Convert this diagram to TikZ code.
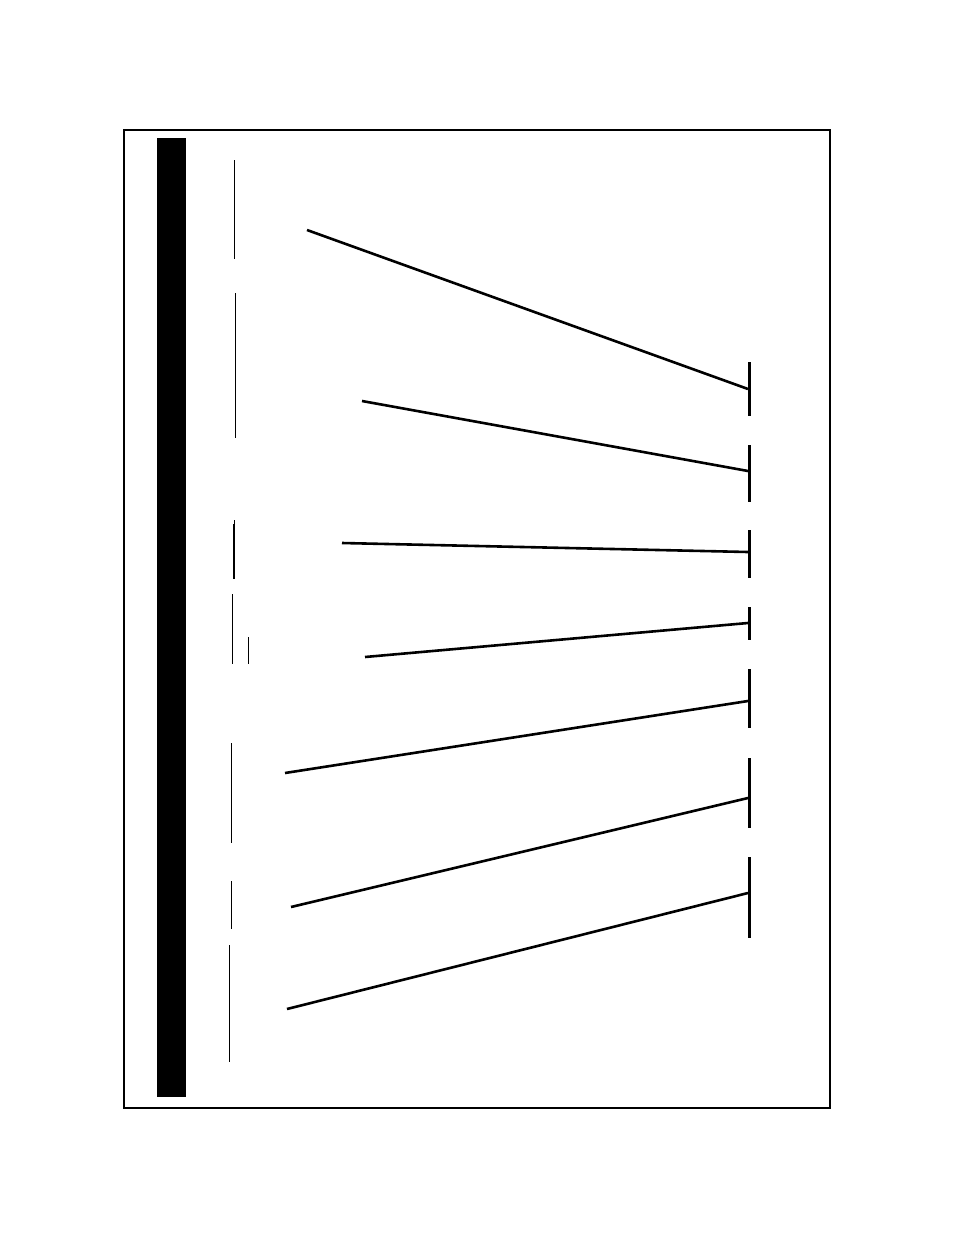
\documentclass[tikz,border=0pt]{standalone}
\begin{document}
\begin{tikzpicture}[x=1pt,y=-1pt,
  frame/.style={draw=black,line width=2pt},
  leader/.style={draw=black,line width=2.6pt},
  tick/.style={draw=black,line width=3pt},
  thin/.style={draw=black,line width=1.2pt},
  thick2/.style={draw=black,line width=2.2pt}]
\useasboundingbox (0,0) rectangle (954,1235);
\draw[frame] (124,130) rectangle (830,1108);
\fill[black] (157,138) rectangle (186,1097);
% thin vertical lines
\draw[thin] (234.5,160) -- (234.5,259);
\draw[thin] (235.5,293) -- (235.5,438);
\draw[thin] (234.8,520) -- (234.8,526);
\draw[thick2] (234,524) -- (234,579);
\draw[thin] (232.5,594) -- (232.5,664);
\draw[thin] (248.5,637) -- (248.5,664);
\draw[thin] (231.5,743) -- (231.5,843);
\draw[thin] (231.5,881) -- (231.5,929);
\draw[thin] (229.5,945) -- (229.5,1062);
% ticks with junction coordinates
\coordinate (j1) at (748,389);
\coordinate (j2) at (748,471);
\coordinate (j3) at (748,552);
\coordinate (j4) at (748,623);
\coordinate (j5) at (748,701);
\coordinate (j6) at (748,798);
\coordinate (j7) at (748,893);
\coordinate (s1) at (307,230);
\coordinate (s2) at (362,401);
\coordinate (s3) at (342,543);
\coordinate (s4) at (365,657);
\coordinate (s5) at (285,773);
\coordinate (s6) at (291,907);
\coordinate (s7) at (287,1009);
\draw[tick] (749,362) -- (749,416);
\draw[tick] (749,445) -- (749,502);
\draw[tick] (749,530) -- (749,578);
\draw[tick] (749,607) -- (749,640);
\draw[tick] (749,669) -- (749,728);
\draw[tick] (749,758) -- (749,828);
\draw[tick] (749,857) -- (749,938);
\foreach \i in {1,...,7} \draw[leader] (s\i) -- (j\i);
\end{tikzpicture}
\end{document}
